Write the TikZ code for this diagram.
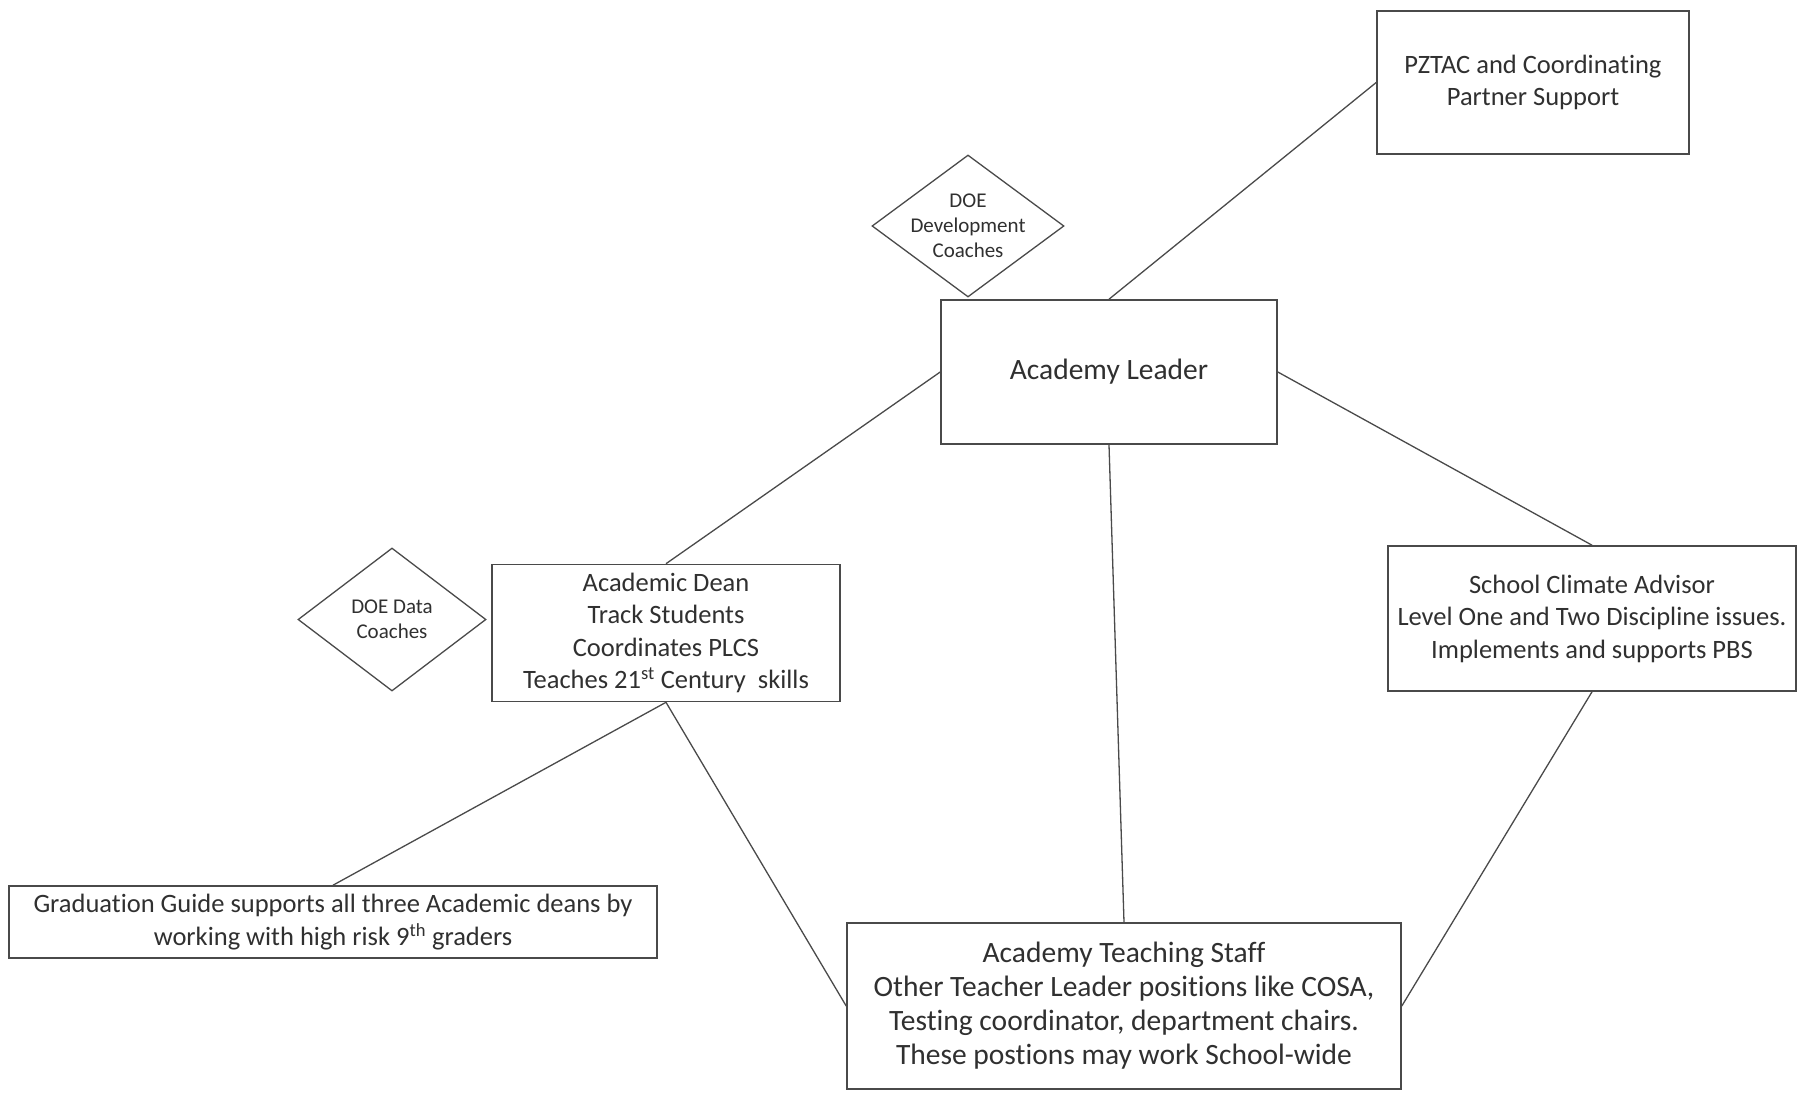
\documentclass[tikz,border=0pt]{standalone}
\usepackage{fontspec}
\setmainfont{Carlito}[RawFeature={-liga;-clig;-calt;-dlig}]
\usetikzlibrary{shapes.geometric}
\definecolor{ln}{HTML}{4A4A4A}
\definecolor{tx}{HTML}{303030}
\tikzset{
  box/.style={draw=ln, line width=1.6pt, rectangle, inner sep=0pt, align=center, text=tx},
  dia/.style={draw=ln, line width=1.3pt, diamond, inner sep=0pt},
  link/.style={draw=ln, line width=1.3pt},
  fA/.style={font=\fontsize{26.5}{32.5}\selectfont},
  fB/.style={font=\fontsize{29.5}{34}\selectfont},
  fC/.style={font=\fontsize{21}{25}\selectfont, align=center, text=tx},
}
\begin{document}
\begin{tikzpicture}[x=1pt,y=-1pt]
\useasboundingbox[fill=white] (0,0) rectangle (1802,1094);
\node[box,fA,minimum width=312,minimum height=143] (pztac) at (1533,82.5) {PZTAC and Coordinating\\Partner Support};
\node[box,fB,minimum width=336,minimum height=144] (leader) at (1109,372) {Academy Leader};
\node[dia,minimum width=192,minimum height=142] (dev) at (968,226) {};
\node[fC] (devtext) at (dev.center) {DOE\\Development\\Coaches};
\node[box,fA,minimum width=348,minimum height=137] (dean) at (666,633) {Academic Dean\\Track Students\\Coordinates PLCS\\Teaches 21\textsuperscript{st} Century\ \ skills};
\node[dia,minimum width=188,minimum height=143] (data) at (392,619.5) {};
\node[fC] (datatext) at (data.center) {DOE Data\\Coaches};
\node[box,fA,minimum width=408,minimum height=145] (climate) at (1592,618.5) {School Climate Advisor\\Level One and Two Discipline issues.\\Implements and supports PBS};
\node[box,fA,minimum width=648,minimum height=72] (grad) at (333,922) {Graduation Guide supports all three Academic deans by\\working with high risk 9\textsuperscript{th} graders};
\node[box,fB,minimum width=554,minimum height=166] (staff) at (1124,1006) {Academy Teaching Staff\\Other Teacher Leader positions like COSA,\\Testing coordinator, department chairs.\\These postions may work School-wide};
\draw[link] (pztac.west) -- (leader.north);
\draw[link] (leader.west) -- (dean.north);
\draw[link] (leader.south) -- (staff.north);
\draw[link] (leader.east) -- (climate.north);
\draw[link] (dean.south) -- (grad.north);
\draw[link] (dean.south) -- (staff.west);
\draw[link] (climate.south) -- (staff.east);
\end{tikzpicture}
\end{document}
